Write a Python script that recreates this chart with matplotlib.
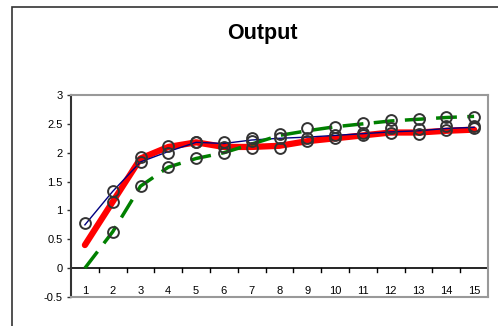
import numpy as np
import matplotlib.pyplot as plt
from matplotlib.patches import Rectangle

plt.rcParams['font.family'] = ['Liberation Sans', 'DejaVu Sans']

periods = list(range(1, 16))
blue_line = [0.75, 1.33, 1.84, 2.02, 2.18, 2.16, 2.22, 2.25, 2.27, 2.30, 2.33, 2.36, 2.38, 2.42, 2.44]
red_line = [0.40, 1.15, 1.90, 2.10, 2.18, 2.10, 2.10, 2.12, 2.20, 2.25, 2.30, 2.35, 2.35, 2.38, 2.40]
green_line = [0.00, 0.63, 1.42, 1.75, 1.90, 2.00, 2.15, 2.30, 2.38, 2.45, 2.50, 2.55, 2.58, 2.61, 2.63]
obs_top = [0.78, 1.33, 1.92, 2.11, 2.18, 2.18, 2.25, 2.33, 2.42, 2.45, 2.52, 2.56, 2.59, 2.62, 2.62]
obs_mid = [np.nan, 1.15, 1.84, 2.00, 2.18, 2.10, 2.21, 2.26, 2.26, 2.31, 2.35, 2.42, 2.41, 2.47, 2.47]
obs_low = [np.nan, 0.63, 1.42, 1.75, 1.90, 2.00, 2.09, 2.09, 2.21, 2.25, 2.31, 2.35, 2.33, 2.40, 2.42]

fig = plt.figure(figsize=(4.98, 3.26), dpi=100)
# chart area border
fig.patches.append(Rectangle((12 / 498, -0.1), 1.2, 1 - 7 / 326 + 0.1, transform=fig.transFigure,
                             fill=False, edgecolor='#333333', linewidth=1.2))
ax = fig.add_axes([71 / 498, 1 - 297 / 326, (488 - 71) / 498, (297 - 95) / 326])

ax.plot(periods, red_line, color='red', linewidth=4.5, solid_capstyle='round', zorder=2)
ax.plot(periods, blue_line, color='#000080', linewidth=1.0, zorder=3)
ax.plot(periods, green_line, color='#008000', linewidth=2.5, dashes=(6, 3), zorder=3)
for obs in (obs_top, obs_mid, obs_low):
    ax.plot(periods, obs, linestyle='none', marker='o', markersize=7.8, markerfacecolor='none',
            markeredgecolor='#333333', markeredgewidth=1.4, zorder=4)

ax.set_xlim(0.5, 15.5)
ax.set_ylim(-0.5, 3)
ax.set_yticks([-0.5, 0, 0.5, 1, 1.5, 2, 2.5, 3])
ax.set_yticklabels(['-0.5', '0', '0.5', '1', '1.5', '2', '2.5', '3'], fontsize=8)
ax.tick_params(axis='y', length=3, width=1, color='#333333', pad=3)

# category axis drawn at y = 0
ax.set_xticks([])
ax.axhline(0, color='black', linewidth=1.2, zorder=1)
for b in np.arange(1.5, 15.5, 1):
    ax.plot([b, b], [0, -0.06], color='black', linewidth=1, zorder=1)
for p in periods:
    ax.text(p, -0.39, str(p), ha='center', va='center', fontsize=8)

for s in ('top', 'right', 'bottom'):
    ax.spines[s].set_color('#999999')
    ax.spines[s].set_linewidth(1.5)
ax.spines['left'].set_color('#333333')
ax.spines['left'].set_linewidth(1.5)

fig.text(262 / 498, 1 - 33 / 326, 'Output', ha='center', va='center', fontsize=15.5, fontweight='bold')

fig.savefig('out.png', dpi=100)
